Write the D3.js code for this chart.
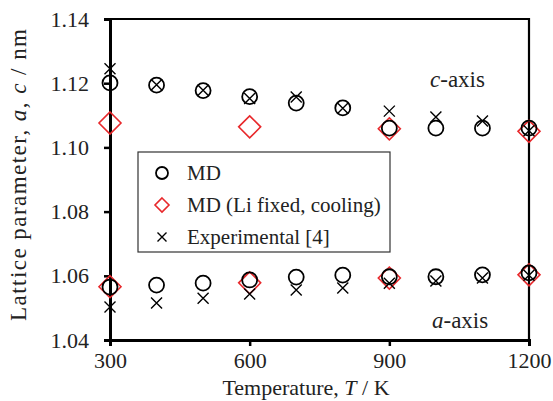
<!DOCTYPE html>
<html>
<head>
<meta charset="utf-8">
<script src="https://d3js.org/d3.v7.min.js"></script>
<style>
  body { margin: 0; background: #fff; }
  svg { display: block; font-family: "Liberation Serif", "Times New Roman", serif; }
</style>
</head>
<body>
<svg width="553" height="401"></svg>
<script>
// temperatures (K)
const temps = [300, 400, 500, 600, 700, 800, 900, 1000, 1100, 1200];
// MD, c-axis and a-axis (nm)
const mdC = [1.1201, 1.1194, 1.1177, 1.1158, 1.1138, 1.1123, 1.1060, 1.1060, 1.1060, 1.1060];
const mdA = [1.0565, 1.0571, 1.0577, 1.0587, 1.0596, 1.0602, 1.0597, 1.0597, 1.0603, 1.0609];
// experimental [4]
const expC = [1.1245, 1.1195, 1.1178, 1.1152, 1.1157, 1.1122, 1.1113, 1.1095, 1.1082, 1.1052];
const expA = [1.0503, 1.0515, 1.0530, 1.0543, 1.0556, 1.0562, 1.0577, 1.0584, 1.0593, 1.0602];
// MD (Li fixed, cooling)
const fixTemps = [300, 600, 900, 1200];
const fixC = [1.1076, 1.1064, 1.1058, 1.1050];
const fixA = [1.0566, 1.0578, 1.0593, 1.0603];

const xTicks = [300, 600, 900, 1200];
const yTicks = [1.04, 1.06, 1.08, 1.10, 1.12, 1.14];
const legendLabels = ["MD", "MD (Li fixed, cooling)", "Experimental [4]"];

const svg = d3.select("svg");
const x = d3.scaleLinear().domain([300, 1200]).range([110, 529]);
const y = d3.scaleLinear().domain([1.04, 1.14]).range([340, 19]);

// frame (top and right)
svg.append("path")
  .attr("d", `M${x(300)},${y(1.14)}H${x(1200)}V${y(1.04)}`)
  .attr("fill", "none").attr("stroke", "#000").attr("stroke-width", 2.2);

// axes
const xAxis = svg.append("g").attr("transform", `translate(0,${y(1.04)})`)
  .call(d3.axisBottom(x).tickValues(xTicks).tickSize(6).tickPadding(6).tickFormat(d3.format("d")));
const yAxis = svg.append("g").attr("transform", `translate(${x(300)},0)`)
  .call(d3.axisLeft(y).tickValues(yTicks).tickSize(6).tickPadding(15).tickFormat(d3.format(".2f")));
[xAxis, yAxis].forEach(g => {
  g.attr("font-family", null);
  g.select(".domain").attr("stroke-width", 3);
  g.selectAll(".tick line").attr("stroke-width", 2.5);
  g.selectAll("text").attr("font-size", 22).attr("fill", "#222");
});

// axis titles
const xt = svg.append("text").attr("x", 306).attr("y", 395).attr("text-anchor", "middle")
  .attr("font-size", 22).attr("fill", "#222");
xt.append("tspan").text("Temperature, ");
xt.append("tspan").attr("font-style", "italic").text("T");
xt.append("tspan").text(" / K");

const yt = svg.append("text").attr("transform", "translate(26,175) rotate(-90)")
  .attr("text-anchor", "middle").attr("font-size", 23).attr("fill", "#222")
  .attr("textLength", 292).attr("lengthAdjust", "spacing");
yt.append("tspan").text("Lattice parameter, ");
yt.append("tspan").attr("font-style", "italic").text("a");
yt.append("tspan").text(", ");
yt.append("tspan").attr("font-style", "italic").text("c");
yt.append("tspan").text(" / nm");

// marker helpers
function circle(g, cx, cy, r) {
  g.append("circle").attr("cx", cx).attr("cy", cy).attr("r", r)
    .attr("fill", "none").attr("stroke", "#000").attr("stroke-width", 1.8);
}
function diamond(g, cx, cy, s) {
  g.append("path").attr("d", `M${cx},${cy - s}L${cx + s},${cy}L${cx},${cy + s}L${cx - s},${cy}Z`)
    .attr("fill", "none").attr("stroke", "#e8282b").attr("stroke-width", 1.6);
}
function cross(g, cx, cy, s) {
  g.append("path").attr("d", `M${cx - s},${cy - s}L${cx + s},${cy + s}M${cx - s},${cy + s}L${cx + s},${cy - s}`)
    .attr("fill", "none").attr("stroke", "#000").attr("stroke-width", 1.4);
}

const marks = svg.append("g");
fixTemps.forEach((t, i) => {
  diamond(marks, x(t), y(fixC[i]), 11);
  diamond(marks, x(t), y(fixA[i]), 11);
});
temps.forEach((t, i) => {
  circle(marks, x(t), y(mdC[i]), 7.5);
  circle(marks, x(t), y(mdA[i]), 7.5);
});
temps.forEach((t, i) => {
  cross(marks, x(t), y(expC[i]), 5.5);
  cross(marks, x(t), y(expA[i]), 5.5);
});

// series labels
const ct = svg.append("text").attr("x", 430).attr("y", 87).attr("font-size", 23).attr("fill", "#222");
ct.append("tspan").attr("font-style", "italic").text("c");
ct.append("tspan").text("-axis");
const at = svg.append("text").attr("x", 432).attr("y", 328).attr("font-size", 23).attr("fill", "#222");
at.append("tspan").attr("font-style", "italic").text("a");
at.append("tspan").text("-axis");

// legend
const lg = svg.append("g");
lg.append("rect").attr("x", 138).attr("y", 152).attr("width", 252).attr("height", 100)
  .attr("fill", "#fff").attr("stroke", "#333").attr("stroke-width", 1.2);
const rowY = [173, 205, 237];
circle(lg, 162, rowY[0], 6);
diamond(lg, 162, rowY[1], 7);
cross(lg, 162, rowY[2], 4.5);
legendLabels.forEach((s, i) => {
  lg.append("text").attr("x", 187).attr("y", rowY[i] + 7).attr("font-size", 21)
    .attr("fill", "#222").text(s);
});
</script>
</body>
</html>
